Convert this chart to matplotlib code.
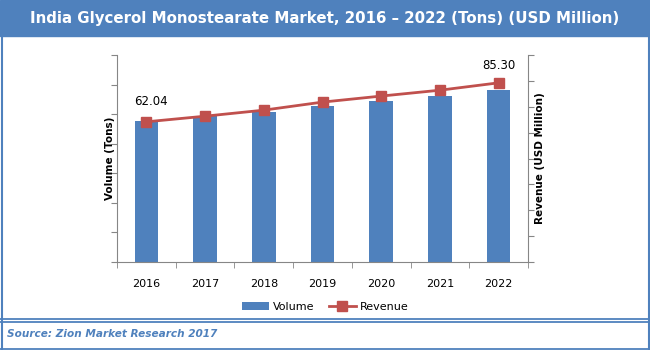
import numpy as np
import matplotlib
matplotlib.use("Agg")
import matplotlib.pyplot as plt
from matplotlib.lines import Line2D
from matplotlib.patches import Rectangle

years = ["2016", "2017", "2018", "2019", "2020", "2021", "2022"]
volume = [47.7, 49.4, 50.8, 52.6, 54.6, 56.1, 58.2]
revenue = [62.04, 65.4, 69.0, 73.8, 77.4, 80.9, 85.30]

blue = "#4f81bd"
red = "#c0504d"
grey = "#868686"

fig = plt.figure(figsize=(6.5, 3.5), dpi=100)

# title banner + frame
fig.patches.append(Rectangle((0, 1 - 36 / 350), 1, 36 / 350, transform=fig.transFigure,
                             color=blue, zorder=0))
fig.text(0.5, 1 - 18 / 350, "India Glycerol Monostearate Market, 2016 \u2013 2022 (Tons) (USD Million)",
         ha="center", va="center", color="white", fontsize=10.8, fontweight="bold")
for x in (1.5 / 650, 648.5 / 650):
    fig.add_artist(Line2D([x, x], [1.5 / 350, 1 - 36 / 350], transform=fig.transFigure,
                          color=blue, lw=1.5))
for y in (1.5 / 350, 1 - 318.5 / 350, 1 - 321.5 / 350):
    fig.add_artist(Line2D([0, 1], [y, y], transform=fig.transFigure, color=blue, lw=1.3))
fig.text(7 / 650, 1 - 334 / 350, "Source: Zion Market Research 2017", ha="left", va="center",
         color=blue, fontsize=7.6, fontstyle="italic", fontweight="bold")

ax = fig.add_axes([117 / 650, 1 - 262 / 350, 411 / 650, 207 / 350])
x = np.arange(len(years))
ax.bar(x, volume, width=0.4, color=blue, zorder=2, label="Volume")
ax.set_xlim(-0.5, len(years) - 0.5)
ax.set_ylim(0, 70)
ax.set_yticks(np.arange(0, 71, 10))
ax.set_yticklabels([])
ax.set_xticks(x)
ax.set_xticklabels(years, fontsize=8)
ax.set_xticks(np.arange(-0.5, len(years), 1), minor=True)
ax.tick_params(axis="x", which="major", length=0, pad=12)
ax.tick_params(axis="x", which="minor", length=4, color=grey)
ax.tick_params(axis="y", length=4, color=grey)
ax.set_ylabel("Volume (Tons)", fontsize=7.5, fontweight="bold")
ax.yaxis.set_label_coords(-0.006, 0.5)
for s in ("top", "right"):
    ax.spines[s].set_visible(False)
for s in ("left", "bottom"):
    ax.spines[s].set_color(grey)

ax2 = ax.twinx()
ax2.plot(x, revenue, color=red, lw=2, marker="s", markersize=6.5, zorder=3, label="Revenue")
ax2.set_ylim(-21.6, 101.9)
ax2.set_yticks(np.linspace(-21.6, 101.9, 9))
ax2.set_yticklabels([])
ax2.tick_params(axis="y", length=4, color=grey)
ax2.set_ylabel("Revenue (USD Million)", fontsize=7.5, fontweight="bold")
ax2.yaxis.set_label_coords(1.017, 0.5)
for s in ("top", "left", "bottom"):
    ax2.spines[s].set_visible(False)
ax2.spines["right"].set_color(grey)
ax2.annotate(f"{revenue[0]:.2f}", (x[0], revenue[0]), xytext=(3, 12), textcoords="offset points",
             ha="center", fontsize=8.5)
ax2.annotate(f"{revenue[-1]:.2f}", (x[-1], revenue[-1]), xytext=(0, 10), textcoords="offset points",
             ha="center", fontsize=8.5)

h1, l1 = ax.get_legend_handles_labels()
h2, l2 = ax2.get_legend_handles_labels()
fig.legend(h1 + h2, l1 + l2, loc="center", bbox_to_anchor=(0.5, 1 - 307 / 350), ncol=2,
           frameon=False, fontsize=8, handlelength=2.5, columnspacing=1.3, handletextpad=0.3)

fig.savefig("out.png", dpi=100)
